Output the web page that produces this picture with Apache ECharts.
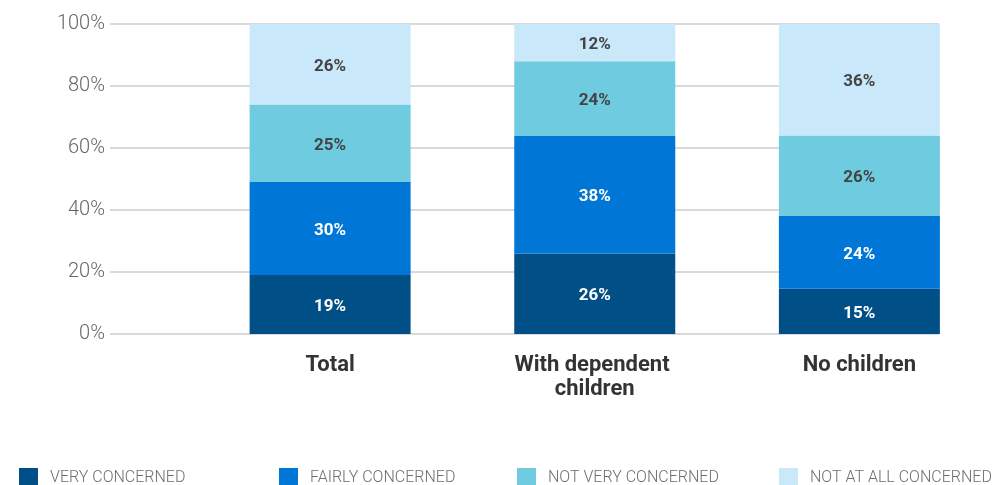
<!DOCTYPE html>
<html>
<head>
<meta charset="utf-8">
<script src="https://cdn.jsdelivr.net/npm/echarts@6/dist/echarts.min.js"></script>
<style>
html,body{margin:0;padding:0;background:#fff;}
#chart{width:995px;height:485px;}
</style>
</head>
<body>
<div id="chart"></div>
<script>
var categories = ['Total', 'With dependent children', 'No children'];
var seriesNames = ['VERY CONCERNED', 'FAIRLY CONCERNED', 'NOT VERY CONCERNED', 'NOT AT ALL CONCERNED'];
var veryConcerned = [19, 26, 14.6];
var fairlyConcerned = [30, 38, 23.5];
var notVeryConcerned = [25, 24, 25.9];
var notAtAllConcerned = [26, 12, 36.0];
var yTicks = [0, 20, 40, 60, 80, 100];

var colors = ['#004f87', '#0076d6', '#6fcbe0', '#c9e8fa'];
var labelColors = ['#ffffff', '#ffffff', '#444444', '#444444'];
var seriesData = [veryConcerned, fairlyConcerned, notVeryConcerned, notAtAllConcerned];
var legendLeft = [19, 279, 517, 779];

var chart = echarts.init(document.getElementById('chart'), null, {renderer: 'canvas'});

var series = seriesData.map(function (d, i) {
  return {
    name: seriesNames[i],
    type: 'bar',
    stack: 'total',
    xAxisIndex: 1,
    yAxisIndex: 1,
    barWidth: 161,
    data: d,
    itemStyle: {color: colors[i]},
    emphasis: {disabled: true},
    label: {
      show: true,
      position: 'inside',
      offset: [0, 2],
      formatter: function (p) { return Math.round(p.value) + '%'; },
      color: labelColors[i],
      fontFamily: 'Roboto',
      fontWeight: 'bold',
      fontSize: 17
    }
  };
});

var legends = seriesNames.map(function (n, i) {
  return {
    data: [n],
    left: legendLeft[i],
    top: 468,
    padding: 0,
    icon: 'rect',
    itemWidth: 19,
    itemHeight: 19,
    selectedMode: false,
    textStyle: {
      fontFamily: 'Roboto',
      fontWeight: 300,
      fontSize: 16,
      color: '#6e6e6e',
      padding: [0, 0, 0, 7]
    }
  };
});

chart.setOption({
  animation: false,
  backgroundColor: '#ffffff',
  legend: legends,
  grid: [
    {left: 110, right: 56, top: 24, height: 310},
    {left: 197.8, right: 3.3, top: 24, height: 310}
  ],
  xAxis: [
    {type: 'category', gridIndex: 0, data: categories, show: false},
    {
      type: 'category',
      gridIndex: 1,
      data: categories,
      axisLine: {show: false},
      axisTick: {show: false},
      axisLabel: {
        margin: 19,
        interval: 0,
        color: '#333333',
        fontFamily: 'Roboto',
        fontWeight: 'bold',
        fontSize: 22,
        lineHeight: 24,
        width: 200,
        overflow: 'break'
      }
    }
  ],
  yAxis: [
    {
      type: 'value',
      gridIndex: 0,
      min: yTicks[0],
      max: yTicks[yTicks.length - 1],
      interval: yTicks[1] - yTicks[0],
      axisLine: {show: false},
      axisTick: {show: false},
      axisLabel: {
        margin: 5,
        formatter: '{value}%',
        color: '#666666',
        fontFamily: 'Roboto',
        fontWeight: 300,
        fontSize: 20
      },
      splitLine: {show: true, lineStyle: {color: '#d9d9d9', width: 2}}
    },
    {
      type: 'value',
      gridIndex: 1,
      min: yTicks[0],
      max: yTicks[yTicks.length - 1],
      interval: yTicks[1] - yTicks[0],
      show: false,
      splitLine: {show: false}
    }
  ],
  series: series
});
</script>
</body>
</html>
